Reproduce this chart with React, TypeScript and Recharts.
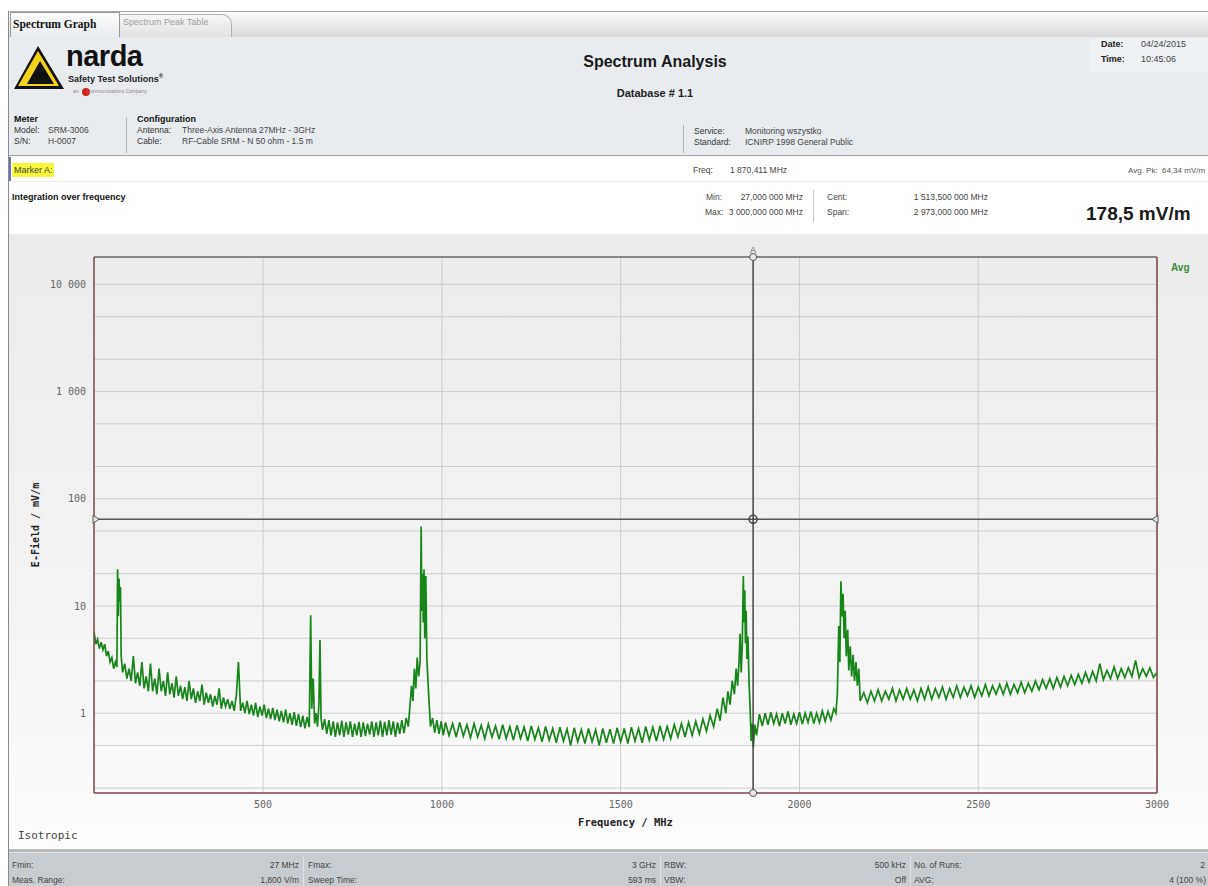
import {
  LineChart,
  CartesianGrid,
  XAxis,
  YAxis,
  Line,
  ReferenceLine,
  ReferenceDot,
} from 'recharts';

// spectrum trace, [frequency MHz, E-field mV/m]
const trace: [number, number][] = [
  [27, 5.8], [32, 4.4], [37, 4.9], [42, 4.0], [47, 4.6], [52, 3.9], [57, 4.4], [62, 3.4], [67, 3.8], [72, 3.0],
  [77, 3.3], [82, 2.6], [87, 3.0], [91, 2.7], [93, 22], [95, 8], [97, 18], [99, 11], [101, 15], [103, 3.4],
  [107, 2.4], [113, 2.9], [119, 2.1], [125, 2.6], [131, 2.0], [137, 3.4], [143, 1.9], [149, 2.4], [155, 1.8], [161, 3.0],
  [167, 1.7], [173, 2.2], [179, 1.6], [185, 2.9], [191, 1.6], [197, 2.1], [203, 1.5], [209, 2.6], [215, 1.6], [221, 2.0],
  [227, 1.45], [233, 2.4], [239, 1.5], [245, 1.9], [251, 1.4], [257, 2.2], [263, 1.45], [269, 1.8], [275, 1.35], [281, 1.75],
  [287, 1.3], [293, 2.0], [299, 1.35], [305, 1.7], [311, 1.25], [317, 1.6], [323, 1.3], [329, 1.85], [335, 1.2], [341, 1.55],
  [347, 1.25], [353, 1.5], [359, 1.15], [365, 1.45], [371, 1.2], [377, 1.7], [383, 1.1], [389, 1.4], [395, 1.15], [401, 1.35],
  [407, 1.1], [413, 1.3], [419, 1.05], [425, 1.45], [431, 3.0], [437, 1.05], [443, 1.25], [449, 1.0], [455, 1.3], [461, 0.98],
  [467, 1.2], [473, 0.95], [479, 1.25], [485, 0.92], [491, 1.15], [497, 0.95], [503, 1.2], [509, 0.9], [515, 1.1], [521, 0.88],
  [527, 1.12], [533, 0.86], [539, 1.08], [545, 0.84], [551, 1.05], [557, 0.82], [563, 1.08], [569, 0.8], [575, 1.0], [581, 0.78],
  [587, 1.02], [593, 0.76], [599, 0.98], [605, 0.74], [611, 0.95], [617, 0.72], [623, 0.92], [629, 0.74], [633, 8.2], [636, 1.1],
  [640, 2.1], [644, 0.8], [648, 1.0], [652, 0.75], [656, 1.2], [659, 4.8], [662, 0.9], [666, 0.7], [672, 0.88], [678, 0.64],
  [684, 0.86], [690, 0.62], [696, 0.84], [702, 0.6], [708, 0.82], [714, 0.62], [720, 0.85], [726, 0.6], [732, 0.82], [738, 0.63],
  [744, 0.84], [750, 0.6], [756, 0.8], [762, 0.62], [768, 0.83], [774, 0.6], [780, 0.82], [786, 0.61], [792, 0.8], [798, 0.63],
  [804, 0.84], [810, 0.6], [816, 0.82], [822, 0.62], [828, 0.85], [834, 0.6], [840, 0.83], [846, 0.62], [852, 0.86], [858, 0.63],
  [864, 0.84], [870, 0.6], [876, 0.82], [882, 0.64], [888, 0.86], [894, 0.65], [900, 0.9], [906, 0.75], [911, 1.2], [915, 1.8],
  [919, 1.3], [923, 2.6], [927, 1.7], [931, 3.3], [935, 2.2], [939, 3.0], [942, 55], [944, 9], [946, 20], [948, 7],
  [950, 22], [952, 5], [955, 19], [958, 3.2], [961, 2.0], [964, 1.3], [968, 0.75], [974, 0.9], [980, 0.66], [986, 0.86],
  [992, 0.64], [998, 0.84], [1004, 0.62], [1010, 0.82], [1020, 0.62], [1030, 0.8], [1040, 0.6], [1050, 0.82], [1060, 0.61], [1070, 0.78],
  [1080, 0.59], [1090, 0.8], [1100, 0.6], [1110, 0.77], [1120, 0.58], [1130, 0.79], [1140, 0.6], [1150, 0.76], [1160, 0.57], [1170, 0.78],
  [1180, 0.58], [1190, 0.75], [1200, 0.56], [1210, 0.77], [1220, 0.58], [1230, 0.74], [1240, 0.55], [1250, 0.76], [1260, 0.57], [1270, 0.73],
  [1280, 0.54], [1290, 0.75], [1300, 0.56], [1310, 0.72], [1320, 0.53], [1330, 0.74], [1340, 0.55], [1350, 0.71], [1360, 0.5], [1370, 0.73],
  [1380, 0.54], [1390, 0.7], [1400, 0.52], [1410, 0.72], [1420, 0.54], [1430, 0.7], [1440, 0.5], [1450, 0.72], [1460, 0.53], [1470, 0.71],
  [1480, 0.52], [1490, 0.73], [1500, 0.54], [1510, 0.72], [1520, 0.52], [1530, 0.74], [1540, 0.55], [1550, 0.72], [1560, 0.53], [1570, 0.75],
  [1580, 0.56], [1590, 0.74], [1600, 0.55], [1610, 0.76], [1620, 0.57], [1630, 0.75], [1640, 0.58], [1650, 0.78], [1660, 0.6], [1670, 0.8],
  [1680, 0.6], [1690, 0.82], [1700, 0.62], [1710, 0.84], [1720, 0.64], [1730, 0.88], [1740, 0.68], [1750, 0.95], [1760, 0.75], [1770, 1.1],
  [1778, 0.85], [1786, 1.4], [1794, 1.0], [1800, 1.6], [1806, 1.2], [1812, 2.0], [1818, 1.5], [1823, 2.6], [1827, 1.8], [1831, 3.0],
  [1834, 5.5], [1837, 2.4], [1840, 4.2], [1843, 19], [1845, 7], [1847, 14], [1849, 4.5], [1851, 9], [1853, 3.2], [1856, 5.2],
  [1859, 2.0], [1862, 1.1], [1865, 0.55], [1868, 0.8], [1871, 0.48], [1875, 0.78], [1880, 0.62], [1888, 0.98], [1896, 0.76], [1904, 1.0],
  [1912, 0.78], [1920, 1.02], [1928, 0.8], [1936, 0.98], [1944, 0.76], [1952, 1.0], [1960, 0.8], [1968, 1.04], [1976, 0.78], [1984, 0.98],
  [1992, 0.8], [2000, 1.02], [2008, 0.79], [2016, 1.0], [2024, 0.82], [2032, 1.04], [2040, 0.8], [2048, 1.0], [2056, 0.82], [2064, 1.05],
  [2072, 0.84], [2080, 1.04], [2088, 0.86], [2096, 1.1], [2102, 1.0], [2106, 1.5], [2110, 6.5], [2113, 3.0], [2116, 17], [2119, 8],
  [2122, 13], [2125, 5], [2128, 9], [2131, 3.4], [2135, 6], [2138, 2.5], [2142, 4.2], [2146, 2.2], [2150, 3.5], [2154, 2.0],
  [2158, 3.0], [2162, 1.8], [2166, 2.6], [2170, 1.3], [2180, 1.55], [2190, 1.25], [2200, 1.6], [2210, 1.3], [2220, 1.65], [2230, 1.3],
  [2240, 1.6], [2250, 1.35], [2260, 1.7], [2270, 1.3], [2280, 1.65], [2290, 1.35], [2300, 1.7], [2310, 1.35], [2320, 1.65], [2330, 1.3],
  [2340, 1.7], [2350, 1.35], [2360, 1.75], [2370, 1.35], [2380, 1.7], [2390, 1.4], [2400, 1.75], [2410, 1.35], [2420, 1.7], [2430, 1.4],
  [2440, 1.8], [2450, 1.4], [2460, 1.75], [2470, 1.45], [2480, 1.8], [2490, 1.4], [2500, 1.75], [2510, 1.45], [2520, 1.85], [2530, 1.45],
  [2540, 1.8], [2550, 1.5], [2560, 1.85], [2570, 1.5], [2580, 1.9], [2590, 1.5], [2600, 1.85], [2610, 1.55], [2620, 1.95], [2630, 1.55],
  [2640, 1.9], [2650, 1.6], [2660, 2.0], [2670, 1.65], [2680, 2.05], [2690, 1.7], [2700, 2.1], [2710, 1.7], [2720, 2.15], [2730, 1.75],
  [2740, 2.2], [2750, 1.8], [2760, 2.25], [2770, 1.85], [2780, 2.3], [2790, 1.9], [2800, 2.4], [2810, 1.95], [2820, 2.45], [2830, 2.0],
  [2840, 2.9], [2850, 2.05], [2860, 2.5], [2870, 2.1], [2880, 2.7], [2890, 2.1], [2900, 2.6], [2910, 2.15], [2920, 2.65], [2930, 2.2],
  [2940, 3.1], [2950, 2.15], [2960, 2.6], [2970, 2.2], [2980, 2.65], [2990, 2.15], [3000, 2.4],
];

const freqRange = [27, 3000];
const fieldRange = [0.18, 18000];
const xTicks = [500, 1000, 1500, 2000, 2500, 3000];
const yTicks = [1, 10, 100, 1000, 10000];
const yGrid = [0.2, 0.5, 1, 2, 5, 10, 20, 50, 100, 200, 500, 1000, 2000, 5000, 10000];
const markerFreq = 1870.411;
const markerLevel = 64.34;

const data = trace.map(([f, v]) => ({ f, v }));

const mono = '"DejaVu Sans Mono", monospace';
const sans = '"Liberation Sans", Arial, sans-serif';

function T({ x, y, s = 9, b = false, c = '#333', w, right, center, children, style }: any) {
  const st: any = {
    position: 'absolute',
    top: y - s * 0.55,
    fontSize: s,
    fontWeight: b ? 'bold' : 'normal',
    color: c,
    whiteSpace: 'nowrap',
    lineHeight: 1.1 + '',
    ...style,
  };
  if (right) {
    st.left = x - (w || 200);
    st.width = w || 200;
    st.textAlign = 'right';
  } else if (center) {
    st.left = x - 200;
    st.width = 400;
    st.textAlign = 'center';
  } else {
    st.left = x;
  }
  return <div style={st}>{children}</div>;
}

const fmtThousands = (v: number) => String(v).replace(/\B(?=(\d{3})+(?!\d))/g, ' ');

function yLabel(props: any) {
  const { viewBox } = props;
  const cx = 35;
  const cy = viewBox.y + viewBox.height / 2;
  return (
    <text
      x={cx}
      y={cy}
      transform={`rotate(-90 ${cx} ${cy})`}
      textAnchor="middle"
      dominantBaseline="central"
      fontFamily={mono}
      fontWeight="bold"
      fontSize={10}
      fill="#222"
    >
      E-Field / mV/m
    </text>
  );
}

const triRight = (p: any) => (
  <path d={`M${p.cx - 1},${p.cy - 4} L${p.cx + 5},${p.cy} L${p.cx - 1},${p.cy + 4} Z`} fill="#e8e8e8" stroke="#555" strokeWidth={1} />
);
const triLeft = (p: any) => (
  <path d={`M${p.cx + 1},${p.cy - 4} L${p.cx - 5},${p.cy} L${p.cx + 1},${p.cy + 4} Z`} fill="#e8e8e8" stroke="#555" strokeWidth={1} />
);

function Logo() {
  return (
    <svg width={52} height={46} style={{ position: 'absolute', left: 13, top: 45 }}>
      <polygon points="25,1 51,44 1,44" fill="#111" />
      <polygon points="25,6 46,41 5,41" fill="#f4d21a" />
      <polygon points="27,16 41,39 14,39" fill="#111" />
    </svg>
  );
}

export default function App() {
  return (
    <div style={{ position: 'absolute', left: 0, top: 0, width: 1208, height: 886, overflow: 'hidden', background: '#fff', fontFamily: sans }}>
      {/* window frame + tabs */}
      <div style={{ position: 'absolute', left: 8, top: 11, width: 1, height: 875, background: '#8a8a8a' }} />
      <div style={{ position: 'absolute', left: 9, top: 11, width: 1199, height: 25, background: 'linear-gradient(#fbfbfb, #d9d9d9)', borderTop: '1px solid #a8a8a8', borderBottom: '1px solid #9a9a9a' }} />
      <div style={{ position: 'absolute', left: 118, top: 14, width: 112, height: 22, background: 'linear-gradient(#f6f6f6, #e2e2e2)', border: '1px solid #b0b0b0', borderBottom: 'none', borderTopRightRadius: 10 }} />
      <T x={123} y={23} s={9} c="#a0a0a0">Spectrum Peak Table</T>
      <div style={{ position: 'absolute', left: 10, top: 12, width: 108, height: 25, background: 'linear-gradient(#fafafa, #e9edf0)', border: '1px solid #9a9a9a', borderBottom: 'none' }} />
      <T x={13} y={24} s={11.5} b c="#111" style={{ fontFamily: '"Liberation Serif", serif' }}>Spectrum Graph</T>

      {/* report header */}
      <div style={{ position: 'absolute', left: 9, top: 37, width: 1199, height: 118, background: '#e8ecef', borderBottom: '1px solid #a5a5a5' }} />
      <div style={{ position: 'absolute', left: 1090, top: 38, width: 118, height: 34, background: '#eef1f3' }} />
      <Logo />
      <T x={66} y={57} s={29} b c="#111" style={{ letterSpacing: -0.5 }}>narda</T>
      <T x={68} y={78} s={9} b c="#222">Safety Test Solutions<sup style={{ fontSize: 6 }}>®</sup></T>
      <div style={{ position: 'absolute', left: 82, top: 88, width: 8, height: 8, borderRadius: 4, background: '#d92020' }} />
      <T x={73} y={92} s={5} c="#888">an&nbsp;&nbsp;&nbsp;&nbsp;&nbsp;&nbsp;Communications Company</T>
      <T x={655} y={62} s={16} b c="#1a1a1a" center>Spectrum Analysis</T>
      <T x={655} y={93} s={11} b c="#222" center>Database # 1.1</T>
      <T x={1101} y={45} s={9} b c="#222">Date:</T>
      <T x={1141} y={45} s={9} c="#444">04/24/2015</T>
      <T x={1101} y={60} s={9} b c="#222">Time:</T>
      <T x={1141} y={60} s={9} c="#444">10:45:06</T>

      <T x={14} y={120} s={9} b c="#111">Meter</T>
      <T x={14} y={131} s={8.5} c="#333">Model:</T>
      <T x={48} y={131} s={8.5} c="#444">SRM-3006</T>
      <T x={14} y={142} s={8.5} c="#333">S/N:</T>
      <T x={48} y={142} s={8.5} c="#444">H-0007</T>
      <div style={{ position: 'absolute', left: 126, top: 117, width: 1, height: 36, background: '#b5b5b5' }} />
      <T x={137} y={120} s={9} b c="#111">Configuration</T>
      <T x={137} y={131} s={8.5} c="#333">Antenna:</T>
      <T x={182} y={131} s={8.5} c="#444">Three-Axis Antenna 27MHz - 3GHz</T>
      <T x={137} y={142} s={8.5} c="#333">Cable:</T>
      <T x={182} y={142} s={8.5} c="#444">RF-Cable SRM - N 50 ohm - 1.5 m</T>
      <div style={{ position: 'absolute', left: 683, top: 125, width: 1, height: 28, background: '#b5b5b5' }} />
      <T x={694} y={132} s={8.5} c="#333">Service:</T>
      <T x={745} y={132} s={8.5} c="#444">Monitoring wszystko</T>
      <T x={694} y={143} s={8.5} c="#333">Standard:</T>
      <T x={745} y={143} s={8.5} c="#444">ICNIRP 1998 General Public</T>

      {/* marker row */}
      <div style={{ position: 'absolute', left: 9, top: 157, width: 1199, height: 24, background: '#fff', borderBottom: '1px solid #eeeeee' }} />
      <div style={{ position: 'absolute', left: 9, top: 157, width: 2, height: 24, background: '#6a6fc0' }} />
      <div style={{ position: 'absolute', left: 12, top: 163, width: 42, height: 14, background: '#f8f83a' }} />
      <T x={14} y={171} s={9} c="#444">Marker A:</T>
      <T x={693} y={171} s={8.5} c="#444">Freq:</T>
      <T x={730} y={171} s={8.5} c="#444">1 870,411 MHz</T>
      <T x={1128} y={171} s={8} c="#555">Avg. Pk:</T>
      <T x={1162} y={171} s={8} c="#555">64,34 mV/m</T>

      {/* integration row */}
      <div style={{ position: 'absolute', left: 9, top: 182, width: 1199, height: 51, background: '#fff' }} />
      <T x={12} y={198} s={9} b c="#111">Integration over frequency</T>
      <T x={706} y={198} s={8.5} c="#444">Min:</T>
      <T x={803} y={198} s={8.5} c="#444" right>27,000 000 MHz</T>
      <T x={705} y={213} s={8.5} c="#444">Max:</T>
      <T x={803} y={213} s={8.5} c="#444" right>3 000,000 000 MHz</T>
      <div style={{ position: 'absolute', left: 813, top: 190, width: 1, height: 32, background: '#c5c5c5' }} />
      <T x={827} y={198} s={8.5} c="#444">Cent:</T>
      <T x={988} y={198} s={8.5} c="#444" right>1 513,500 000 MHz</T>
      <T x={827} y={213} s={8.5} c="#444">Span:</T>
      <T x={988} y={213} s={8.5} c="#444" right>2 973,000 000 MHz</T>
      <T x={1086} y={214} s={19} b c="#1a1a1a">178,5 mV/m</T>

      {/* chart section */}
      <div style={{ position: 'absolute', left: 9, top: 234, width: 1199, height: 615, background: 'linear-gradient(#ebebeb, #f3f3f3 60%, #fdfdfd)' }} />
      <div style={{ position: 'absolute', left: 0, top: 237 }}>
        <LineChart width={1208} height={611} data={data} margin={{ top: 20, right: 51, bottom: 0, left: 0 }}>
          <CartesianGrid
            stroke="#cdcdcd"
            strokeWidth={1}
            horizontalValues={yGrid}
            verticalValues={xTicks}
          />
          <XAxis
            dataKey="f"
            type="number"
            domain={freqRange}
            ticks={xTicks}
            allowDataOverflow
            height={55}
            tickLine={false}
            axisLine={{ stroke: '#7a4444', strokeWidth: 1.5 }}
            tick={{ fill: '#666', fontSize: 10, fontFamily: mono }}
            label={{ value: 'Frequency / MHz', position: 'insideBottom', offset: 22, fill: '#222', fontSize: 10.5, fontWeight: 'bold', fontFamily: mono }}
          />
          <YAxis
            type="number"
            scale="log"
            domain={fieldRange}
            ticks={yTicks}
            allowDataOverflow
            width={94}
            tickLine={false}
            axisLine={{ stroke: '#7a4444', strokeWidth: 1.5 }}
            tick={{ fill: '#666', fontSize: 10, fontFamily: mono }}
            tickFormatter={fmtThousands}
            label={{ content: yLabel }}
          />
          <ReferenceLine x={3000} stroke="#7a4444" strokeWidth={1.5} />
          <ReferenceLine y={18000} stroke="#666" strokeWidth={1.5} />
          <Line
            dataKey="v"
            stroke="#17851a"
            strokeWidth={1.7}
            strokeLinejoin="miter"
            dot={false}
            isAnimationActive={false}
          />
          <ReferenceLine y={markerLevel} stroke="#555" strokeWidth={1.5} />
          <ReferenceLine
            x={markerFreq}
            stroke="#444"
            strokeWidth={1.5}
            label={{ value: 'A', position: 'top', offset: 4, fill: '#666', fontSize: 9, fontFamily: sans }}
          />
          <ReferenceDot x={markerFreq} y={markerLevel} r={4} fill="none" stroke="#444" strokeWidth={1.5} />
          <ReferenceDot x={markerFreq} y={18000} r={3.5} fill="#e8e8e8" stroke="#555" strokeWidth={1} />
          <ReferenceDot x={markerFreq} y={0.18} r={3.5} fill="#e8e8e8" stroke="#555" strokeWidth={1} />
          <ReferenceDot x={27} y={markerLevel} shape={triRight} />
          <ReferenceDot x={3000} y={markerLevel} shape={triLeft} />
        </LineChart>
      </div>
      <T x={1171} y={267} s={10} b c="#3b8d3b">Avg</T>
      <T x={18} y={836} s={11} c="#444" style={{ fontFamily: mono }}>Isotropic</T>

      {/* footer */}
      <div style={{ position: 'absolute', left: 9, top: 849, width: 1199, height: 3, background: '#b9b9b9', borderBottom: '1px solid #e5e5e5' }} />
      <div style={{ position: 'absolute', left: 9, top: 853, width: 1199, height: 33, background: '#c7ccd0' }} />
      {[303, 660, 910].map((x) => (
        <div key={x} style={{ position: 'absolute', left: x, top: 855, width: 1, height: 31, background: '#dfe2e4' }} />
      ))}
      <T x={12} y={866} s={8.5} c="#444">Fmin:</T>
      <T x={299} y={866} s={8.5} c="#444" right>27 MHz</T>
      <T x={308} y={866} s={8.5} c="#444">Fmax:</T>
      <T x={656} y={866} s={8.5} c="#444" right>3 GHz</T>
      <T x={664} y={866} s={8.5} c="#444">RBW:</T>
      <T x={906} y={866} s={8.5} c="#444" right>500 kHz</T>
      <T x={914} y={866} s={8.5} c="#444">No. of Runs:</T>
      <T x={1205} y={866} s={8.5} c="#444" right>2</T>
      <T x={12} y={881} s={8.5} c="#444">Meas. Range:</T>
      <T x={299} y={881} s={8.5} c="#444" right>1,800 V/m</T>
      <T x={308} y={881} s={8.5} c="#444">Sweep Time:</T>
      <T x={656} y={881} s={8.5} c="#444" right>593 ms</T>
      <T x={664} y={881} s={8.5} c="#444">VBW:</T>
      <T x={906} y={881} s={8.5} c="#444" right>Off</T>
      <T x={914} y={881} s={8.5} c="#444">AVG:</T>
      <T x={1206} y={881} s={8.5} c="#444" right>4 (100 %)</T>
    </div>
  );
}
